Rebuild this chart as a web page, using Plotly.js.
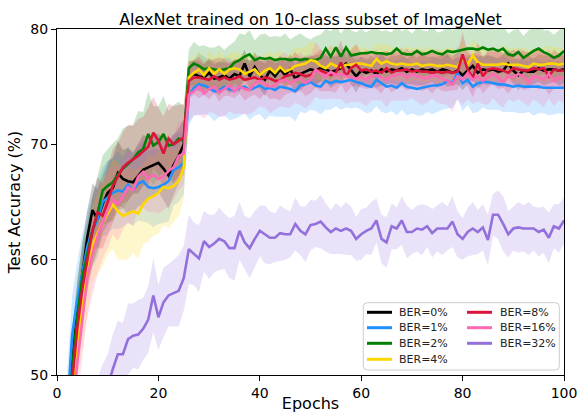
<!DOCTYPE html>
<html>
<head>
<meta charset="utf-8">
<script src="https://cdn.plot.ly/plotly-3.0.1.min.js"></script>
<style>html,body{margin:0;padding:0;background:#fff;}#chart{width:586px;height:413px;}</style>
</head>
<body>
<div id="chart"></div>
<script>
// ---- data ----
const epochs = Array.from({length: 100}, (_, i) => i + 1);
const labels = ["BER=0%", "BER=1%", "BER=2%", "BER=4%", "BER=8%", "BER=16%", "BER=32%"];
const colors = ["#000000", "#1E90FF", "#008000", "#FFD700", "#DC143C", "#FF69B4", "#9370DB"];
const fills = ["rgba(0,0,0,0.2)", "rgba(30,144,255,0.2)", "rgba(0,128,0,0.2)", "rgba(255,215,0,0.2)",
               "rgba(220,20,60,0.2)", "rgba(255,105,180,0.2)", "rgba(147,112,219,0.2)"];

const ber0 = [38,45,51,55.5,58.8,62.0,64.3,63.5,64.8,65.8,
  66.2,67.5,67.0,66.8,66.7,67.3,67.8,68.0,68.2,68.4,
  67.9,67.3,68.2,69.0,70.0,75.8,76.1,75.9,75.8,76.2,
  75.7,75.8,76.0,75.7,76.1,75.9,77.0,75.9,76.7,76.0,
  75.6,76.4,75.9,76.5,76.0,76.5,75.7,76.1,76.3,76.5,
  76.4,76.6,76.5,76.3,76.4,76.6,77.0,76.4,75.9,76.4,
  76.2,76.4,76.1,76.5,76.3,76.5,76.4,76.6,76.3,76.5,
  76.3,76.5,76.4,76.5,76.3,76.5,76.4,76.2,76.4,76.0,
  76.4,76.8,76.2,76.5,76.4,76.5,76.3,76.4,77.0,76.4,
  76.0,76.4,76.3,76.3,76.6,76.4,76.5,76.5,76.4,76.5];
const ber1 = [40,47,53.5,56.5,59.0,61.2,62.5,63.5,65.0,65.4,
  65.8,66.0,65.9,66.5,66.0,66.6,66.8,66.3,66.2,66.3,
  66.5,66.8,67.8,68.0,68.4,74.2,74.9,75.2,75.1,74.9,
  74.6,74.7,75.0,74.8,74.6,74.9,75.0,74.7,74.9,75.1,
  74.8,74.9,74.7,75.0,74.9,74.8,74.6,75.1,75.2,75.4,
  75.1,75.0,75.5,75.3,75.5,75.4,75.5,75.6,75.4,75.3,
  75.1,75.0,75.6,75.3,75.0,75.1,74.9,75.3,75.0,74.9,
  74.8,74.9,75.0,75.1,75.1,75.2,75.5,75.3,76.2,75.3,
  75.6,75.0,75.3,75.4,75.4,75.3,75.2,75.2,75.1,75.0,
  75.1,75.0,75.0,75.0,75.0,74.9,74.9,74.9,74.9,74.9];
const ber2 = [37,44,50.5,55.0,58.5,60.5,62.5,64.0,66.0,66.4,
  66.7,67.4,67.9,68.3,68.7,69.3,69.6,70.9,69.9,70.2,
  70.9,69.9,70.0,70.5,70.3,76.6,77.0,76.8,76.5,76.6,
  76.5,76.4,76.5,76.6,77.1,77.3,77.6,77.8,77.3,77.5,
  77.4,77.5,77.3,77.4,77.4,77.3,77.4,77.3,77.4,77.3,
  77.3,77.5,78.3,77.6,78.4,77.6,78.4,77.7,77.8,77.9,
  77.9,78.0,77.9,77.9,77.8,77.9,78.3,77.9,77.8,77.8,
  78.1,77.8,77.9,78.1,77.9,77.8,78.1,78.0,78.1,78.2,
  78.3,78.3,78.2,78.4,78.2,78.3,78.1,78.3,77.8,77.7,
  78.0,77.5,77.8,78.1,78.3,78.0,77.8,77.5,77.7,78.1];
const ber4 = [34,41,48.5,53.0,56.0,59.0,61.3,62.3,63.2,64.0,
  64.8,64.2,63.8,64.0,64.2,64.0,64.8,65.3,65.5,65.8,
  66.3,66.2,66.4,66.8,68.0,75.8,76.2,76.5,76.0,76.6,
  76.1,76.5,76.1,76.5,76.6,76.5,76.1,76.3,76.5,76.0,
  76.4,76.6,76.2,76.7,76.3,76.5,76.8,76.9,77.0,77.3,
  77.2,76.8,76.6,77.0,76.8,76.7,76.9,76.9,77.0,77.0,
  76.9,76.8,77.4,77.0,77.2,77.0,76.9,77.0,76.9,76.9,
  77.0,76.8,76.9,76.9,76.8,76.8,76.9,76.8,76.7,77.5,
  76.9,77.7,77.1,76.9,76.9,76.9,76.9,77.0,76.9,76.9,
  76.9,76.8,76.7,77.0,76.9,76.9,77.0,77.0,76.9,77.0];
const ber8 = [35,42,49.5,54.0,57.5,60.0,62.5,64.1,63.8,65.0,
  66.4,67.2,68.0,68.4,68.7,69.0,69.4,69.8,71.0,70.3,
  69.2,70.5,70.0,70.3,70.6,75.5,75.8,75.8,75.7,75.6,
  75.9,75.6,75.8,75.6,75.7,75.9,75.6,75.7,75.8,75.6,
  75.8,75.7,75.5,75.5,75.9,76.0,76.2,76.1,75.9,76.0,
  76.4,76.4,76.2,76.0,76.2,77.1,75.9,76.6,76.9,76.4,
  76.5,76.3,76.4,76.2,76.6,76.2,76.4,76.4,76.5,76.3,
  76.4,76.3,76.3,76.2,76.3,76.2,76.3,76.2,76.3,77.8,
  76.5,75.8,77.0,75.9,76.5,76.6,76.5,76.4,76.2,76.6,
  76.5,76.4,76.4,76.6,76.5,76.6,75.9,76.5,76.4,76.4];
const ber16 = [32,39,46.5,51.0,55.0,58.5,60.5,62.0,63.2,64.3,
  65.2,64.8,65.5,66.3,66.0,67.2,67.6,67.0,67.4,67.0,
  67.2,67.7,68.0,69.0,69.2,74.3,74.6,75.0,74.4,74.8,
  75.0,74.5,74.8,75.1,74.6,75.0,74.8,74.7,75.3,75.5,
  75.2,75.0,75.1,75.5,75.6,75.3,75.6,75.7,75.3,75.6,
  76.5,76.1,75.9,76.3,76.0,76.1,75.9,75.8,75.7,75.8,
  75.6,75.9,76.0,75.8,75.6,75.9,76.0,76.1,75.8,76.1,
  75.9,75.8,75.7,76.0,75.9,75.7,75.5,75.2,75.9,75.6,
  76.2,75.6,75.9,75.5,75.8,76.1,75.8,75.4,75.9,75.8,
  76.1,75.9,75.4,75.9,75.8,75.6,76.1,75.5,75.8,75.7];
const ber32 = [38,40,41.5,43,44,45,46,47,48,49,
  50.5,51.8,51.8,53.1,53.4,53.5,54.0,54.8,56.9,55.0,
  56.3,56.9,57.1,57.3,58.4,60.9,60.5,60.1,61.6,61.1,
  61.4,61.8,61.6,61.0,61.0,62.5,61.5,61.0,61.8,62.5,
  62.2,61.9,61.9,62.3,62.2,62.2,63.1,62.5,62.2,63.0,
  63.1,63.3,62.8,62.4,62.7,62.5,62.7,62.5,61.8,62.2,
  62.5,62.7,63.4,61.8,61.5,62.9,62.7,63.4,62.4,62.4,
  62.7,62.6,62.9,62.3,62.7,62.7,62.7,63.3,62.2,61.8,
  62.4,62.7,62.4,62.8,61.7,63.9,63.9,63.1,62.2,62.7,
  62.8,62.7,62.7,62.7,62.4,62.6,61.9,62.9,62.7,63.4];

const sd0 = [3.0,3.0,2.8,2.7,2.6,2.4,2.3,2.6,2.5,2.7,2.6,2.8,2.5,2.9,2.6,2.7,3.0,2.6,2.8,2.5,
  2.7,2.9,2.6,2.4,2.2,1.4,1.2,1.3,1.1,1.3,1.2,1.4,1.1,1.3,1.2,1.4,1.2,1.1,1.3,1.2,
  1.4,1.1,1.3,1.2,1.1,1.3,1.2,1.4,1.2,1.1,1.3,1.2,1.1,1.4,1.2,1.3,1.1,1.2,1.4,1.2,
  1.1,1.3,1.2,1.4,1.1,1.2,1.3,1.2,1.1,1.3,1.2,1.4,1.2,1.1,1.3,1.2,1.4,1.1,1.2,1.3,
  1.2,1.1,1.4,1.2,1.3,1.1,1.2,1.4,1.2,1.1,1.3,1.2,1.4,1.1,1.2,1.3,1.2,1.1,1.3,1.2];
const sd1 = [3.5,3.5,3.4,3.3,3.2,3.0,3.1,3.3,3.0,3.2,3.1,3.4,3.0,3.3,3.1,3.2,3.5,3.1,3.4,3.2,
  3.3,3.5,3.1,3.0,2.8,2.6,2.4,2.7,2.5,2.4,2.6,2.3,2.5,2.7,2.4,2.5,2.3,2.6,2.4,2.5,
  2.7,2.4,2.3,2.6,2.5,2.4,2.6,2.3,2.5,2.4,2.2,2.4,2.5,2.3,2.2,2.4,2.3,2.5,2.2,2.3,
  2.4,2.2,2.3,2.5,2.3,2.2,2.4,2.3,2.5,2.2,2.3,2.4,2.2,2.5,2.3,2.2,2.4,2.1,2.3,2.4,
  2.2,2.3,2.5,2.2,2.4,2.3,2.2,2.4,2.3,2.2,2.4,2.3,2.2,2.5,2.3,2.2,2.4,2.3,2.2,2.3];
const sd2 = [3.2,3.2,3.0,3.1,3.0,2.9,3.1,3.3,3.0,3.2,3.4,3.1,3.5,3.3,3.0,3.6,3.2,3.7,3.4,3.1,
  3.3,3.0,3.4,3.2,3.0,1.6,1.9,1.7,2.1,1.8,1.9,2.2,1.7,2.0,1.8,2.3,1.9,2.1,1.7,2.0,
  2.2,1.8,2.1,1.9,2.2,1.8,2.0,2.3,1.9,1.8,2.1,2.0,1.7,2.2,1.9,2.0,1.8,2.2,1.9,2.1,
  1.8,2.0,2.2,1.9,2.1,1.8,2.0,1.9,2.2,1.8,2.0,2.1,1.9,2.2,1.8,2.0,2.1,1.9,2.0,2.3,
  1.9,2.1,1.8,2.0,2.2,1.9,2.1,2.0,1.8,2.2,2.0,1.9,2.1,2.0,2.3,1.9,2.1,2.0,2.2,2.1];
const sd4 = [3.0,3.0,3.2,3.4,3.5,3.6,3.3,3.5,3.8,3.6,3.9,4.2,3.8,4.0,3.6,3.9,3.5,3.7,3.4,3.6,
  3.3,3.5,3.2,3.0,2.8,1.5,1.4,1.6,1.3,1.5,1.4,1.6,1.5,1.3,1.5,1.4,1.6,1.4,1.5,1.3,
  1.5,1.4,1.6,1.5,1.3,1.4,1.6,1.5,1.4,1.6,1.5,1.3,1.4,1.6,1.5,1.4,1.3,1.5,1.6,1.4,
  1.5,1.3,1.4,1.6,1.5,1.4,1.5,1.3,1.6,1.4,1.5,1.4,1.6,1.3,1.5,1.4,1.5,1.6,1.4,1.5,
  1.3,1.4,1.6,1.5,1.4,1.5,1.3,1.6,1.4,1.5,1.4,1.6,1.5,1.3,1.4,1.5,1.6,1.4,1.5,1.4];
const sd8 = [3.0,3.0,2.9,2.8,3.0,2.7,2.9,3.1,2.8,3.0,3.2,2.9,3.1,3.3,2.9,3.2,3.0,3.4,3.1,2.9,
  3.2,3.0,3.3,3.1,2.9,1.6,1.5,1.8,1.4,1.7,1.5,1.9,1.6,1.4,1.7,1.5,1.8,1.6,1.5,1.7,
  1.4,1.8,1.5,1.7,1.6,1.5,1.8,1.4,1.7,1.6,1.5,1.8,1.6,1.4,1.7,1.9,1.5,1.6,1.8,1.5,
  1.7,1.4,1.6,1.8,1.5,1.7,1.6,1.4,1.8,1.5,1.6,1.7,1.5,1.8,1.4,1.6,1.7,1.5,1.6,1.9,
  1.5,1.7,1.8,1.5,1.6,1.4,1.7,1.5,1.8,1.6,1.5,1.7,1.6,1.4,1.8,1.5,1.6,1.7,1.5,1.6];
const sd16 = [3.5,3.5,3.4,3.3,3.5,3.4,3.6,3.3,3.1,3.3,3.0,3.2,2.9,3.1,3.0,2.8,3.1,2.9,3.2,3.0,
  2.9,3.1,2.8,3.0,2.7,2.3,2.1,2.4,2.2,2.0,2.3,2.1,2.4,2.2,2.0,2.3,2.2,2.1,2.4,2.2,
  2.0,2.3,2.1,2.2,2.4,2.1,2.0,2.3,2.2,2.1,2.4,2.2,2.0,2.3,2.1,2.2,2.4,2.1,2.0,2.2,
  2.3,2.1,2.2,2.0,2.4,2.1,2.2,2.3,2.0,2.1,2.2,2.4,2.1,2.0,2.3,2.2,2.1,2.4,2.0,2.2,
  2.3,2.1,2.2,2.0,2.4,2.1,2.3,2.2,2.0,2.1,2.2,2.3,2.1,2.0,2.2,2.4,2.1,2.2,2.0,2.1];
const sd32 = [2.5,2.5,2.6,2.5,2.7,2.6,2.8,2.7,2.9,2.8,3.0,2.9,2.7,3.1,2.8,3.0,2.7,2.9,3.2,2.8,
  3.0,2.7,2.9,3.1,2.8,3.0,2.7,2.9,2.6,2.8,2.5,2.7,2.4,2.6,2.8,2.5,2.3,2.6,2.4,2.2,
  2.5,2.3,2.1,2.4,2.2,2.0,2.3,2.1,2.4,2.2,2.0,2.3,2.1,1.9,2.2,2.0,2.3,2.1,1.9,2.2,
  2.0,2.3,1.9,2.1,2.2,2.0,1.8,2.1,2.3,1.9,2.0,2.2,1.8,2.1,2.0,2.3,1.9,2.2,2.0,1.8,
  2.1,2.3,1.9,2.0,2.2,1.8,2.1,2.4,2.0,1.9,2.2,2.0,2.3,1.9,2.1,2.0,2.2,1.9,2.1,2.0];

const xTicks = [0, 20, 40, 60, 80, 100];
const yTicks = [50, 60, 70, 80];

// ---- build ----
const means = [ber0, ber1, ber2, ber4, ber8, ber16, ber32];
const sds = [sd0, sd1, sd2, sd4, sd8, sd16, sd32];
const FONT = "DejaVu Sans, Liberation Sans, sans-serif";
const bandTraces = [];
const lineTraces = [];
means.forEach((m, k) => {
  const up = m.map((v, i) => v + sds[k][i]);
  const lo = m.map((v, i) => v - sds[k][i]);
  bandTraces.push({
    x: epochs.concat(epochs.slice().reverse()),
    y: up.concat(lo.slice().reverse()),
    type: "scatter", mode: "lines", fill: "toself", fillcolor: fills[k],
    line: {width: 0, color: "rgba(0,0,0,0)"}, showlegend: false, hoverinfo: "skip"
  });
  lineTraces.push({
    x: epochs, y: m, type: "scatter", mode: "lines", name: labels[k],
    line: {color: colors[k], width: 2.6}, showlegend: false, hoverinfo: "skip"
  });
});
const traces = bandTraces.concat(lineTraces);

// manual legend (matplotlib-style two-column box)
const PW = 507, PH = 346;
const px2x = p => (p - 57) / PW;
const py2y = p => (375 - p) / PH;
const bx0 = px2x(363.3), bx1 = px2x(559.3), by0 = py2y(370), by1 = py2y(302.7);
const rx = 4 / PW, ry = 4 / PH;
const shapes = [{
  type: "path", xref: "paper", yref: "paper",
  path: `M ${bx0 + rx},${by0} L ${bx1 - rx},${by0} Q ${bx1},${by0} ${bx1},${by0 + ry} L ${bx1},${by1 - ry} Q ${bx1},${by1} ${bx1 - rx},${by1} L ${bx0 + rx},${by1} Q ${bx0},${by1} ${bx0},${by1 - ry} L ${bx0},${by0 + ry} Q ${bx0},${by0} ${bx0 + rx},${by0} Z`,
  fillcolor: "rgba(255,255,255,0.8)", line: {color: "#cccccc", width: 1}, layer: "above"
}];
const annotations = [];
const rowsPx = [312.3, 327.7, 343.3, 359.3];
const cols = [{l0: 367, l1: 392, t: 398}, {l0: 467, l1: 492, t: 499}];
labels.forEach((lab, k) => {
  const c = k < 4 ? 0 : 1;
  const r = k < 4 ? k : k - 4;
  const yy = py2y(rowsPx[r]);
  shapes.push({type: "line", xref: "paper", yref: "paper", x0: px2x(cols[c].l0), x1: px2x(cols[c].l1),
    y0: yy, y1: yy, line: {color: colors[k], width: 3}, layer: "above"});
  annotations.push({xref: "paper", yref: "paper", x: px2x(cols[c].t), y: yy, xanchor: "left", yanchor: "middle",
    text: lab, showarrow: false, font: {family: FONT, size: 11, color: "#222"}, borderpad: 0});
});

const layout = {
  width: 586, height: 413,
  margin: {l: 57, r: 22, t: 29, b: 38},
  paper_bgcolor: "#ffffff", plot_bgcolor: "#ffffff",
  font: {family: FONT, color: "#000"},
  title: {text: "AlexNet trained on 10-class subset of ImageNet", font: {family: FONT, size: 16, color: "#000"},
          x: 0.5, xref: "paper", xanchor: "center", y: 1 - 19 / 413, yref: "container", yanchor: "middle"},
  xaxis: {range: [0, 100], tickvals: xTicks, ticktext: xTicks.map(String), ticks: "outside", ticklen: 5,
          tickcolor: "#000", tickwidth: 1, showline: true, mirror: true, linecolor: "#000", linewidth: 1,
          showgrid: false, zeroline: false, tickfont: {family: FONT, size: 14, color: "#000"},
          title: {text: "Epochs", font: {family: FONT, size: 16, color: "#000"}, standoff: 5}},
  yaxis: {range: [50, 80], tickvals: yTicks, ticktext: yTicks.map(String), ticks: "outside", ticklen: 5,
          tickcolor: "#000", tickwidth: 1, showline: true, mirror: true, linecolor: "#000", linewidth: 1,
          showgrid: false, zeroline: false, tickfont: {family: FONT, size: 14, color: "#000"},
          title: {text: "Test Accuracy (%)", font: {family: FONT, size: 16, color: "#000"}, standoff: 5}},
  showlegend: false,
  shapes: shapes,
  annotations: annotations
};

Plotly.newPlot("chart", traces, layout, {displayModeBar: false, staticPlot: true});
</script>
</body>
</html>
